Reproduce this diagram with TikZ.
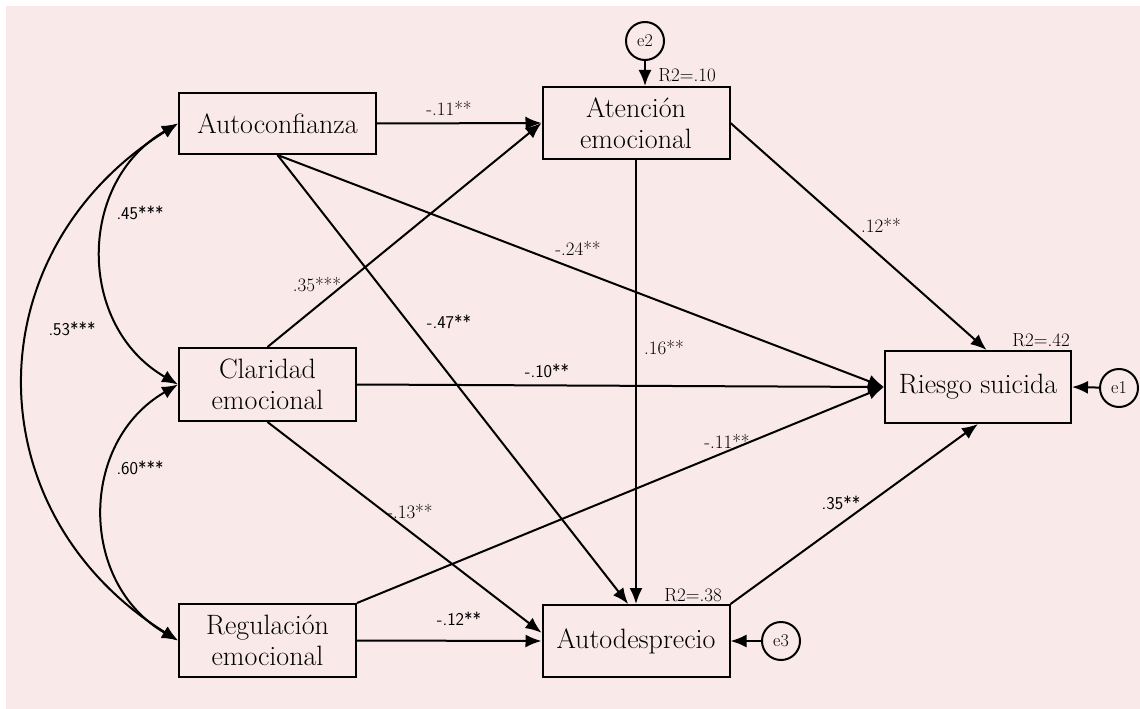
\documentclass[tikz,border=0pt]{standalone}
\usepackage{tikz}
\usetikzlibrary{calc,arrows.meta}
\definecolor{bgpink}{RGB}{249,233,233}
\tikzset{
  var/.style={draw, line width=2pt, inner sep=0pt, align=center, font=\fontsize{28}{31}\selectfont},
  err/.style={draw, circle, line width=2pt, minimum size=38pt, inner sep=0pt, font=\fontsize{18}{20}\selectfont},
  arr/.style={line width=2pt, -{Latex[length=16pt,width=13pt]}},
  cov/.style={line width=2pt, {Latex[length=16pt,width=13pt]}-{Latex[length=16pt,width=13pt]}},
  coef/.style={inner sep=0pt, font=\fontsize{19}{21}\selectfont},
  coefsf/.style={inner sep=0pt, font=\fontsize{18}{20}\sffamily},
}

\begin{document}
\begin{tikzpicture}[x=1pt,y=-1pt]
		%%%%% START %%%%%
		
		\useasboundingbox (0,0) rectangle (1140,709);
		\fill[white] (0,0) rectangle (1140,709);
		\fill[bgpink] (6,6) rectangle (1140,709);
		
		\node[var, minimum width=197pt, minimum height=61pt] (auto) at (277.5,123.5) {Autoconfianza};
		\node[var, minimum width=177pt, minimum height=73pt] (clar) at (267.5,384.5) {Claridad\\emocional};
		\node[var, minimum width=177pt, minimum height=73pt] (regul) at (267.5,640.5) {Regulación\\emocional};
		\node[var, minimum width=187pt, minimum height=72pt] (aten) at (636,123) {Atención\\emocional};
		\node[var, minimum width=187pt, minimum height=72pt] (autod) at (636,641) {Autodesprecio};
		\node[var, minimum width=186pt, minimum height=72pt] (riesgo) at (978,387) {Riesgo suicida};
		
		\node[err] (e1) at (1119,388) {e1};
		\node[err] (e2) at (645,41) {e2};
		\node[err] (e3) at (781,641) {e3};
		
		\node[coef] (r2aten) at (687,75) {R2=.10};
		\node[coef] (r2riesgo) at (1041,340) {R2=.42};
		\node[coef] (r2autod) at (693,595) {R2=.38};
		
		% covarianzas
		\draw[cov] (auto.west) to[out=210, in=150, looseness=1.15] (clar.west);
		\draw[cov] (clar.west) to[out=210, in=150, looseness=1.15] (regul.west);
		\draw[cov] (auto.west) to[out=212, in=148, looseness=1.2] (regul.west);
		
		% efectos
		\draw[arr] (auto.east) -- (aten.west);
		\draw[arr] (clar.north) -- (aten.west);
		\draw[arr] (auto.south) -- (autod.102);
		\draw[arr] (auto.south) -- (riesgo.west);
		\draw[arr] (clar.east) -- (riesgo.west);
		\draw[arr] (regul.north east) -- (riesgo.west);
		\draw[arr] (regul.east) -- (autod.west);
		\draw[arr] (clar.south) -- (autod.175);
		\draw[arr] (aten.south) -- (autod.north);
		\draw[arr] (aten.east) -- (riesgo.77);
		\draw[arr] (autod.north east) -- (riesgo.south);
		
		\draw[arr] (e1) -- (riesgo.east);
		\draw[arr] (e3) -- (autod.east);
		\draw[arr] (e2) -- (e2 |- aten.north);
		
		% coeficientes
		\node[coefsf] (c45) at (140,213) {.45***};
		\node[coefsf] (c53) at (72,329) {.53***};
		\node[coefsf] (c60) at (140,468) {.60***};
		\node[coef] (c11a) at (449,108) {-.11**};
		\node[coef] (c35a) at (317,285) {.35***};
		\node[coefsf] (c47) at (449,322) {-.47**};
		\node[coef] (c24) at (578,248) {-.24**};
		\node[coef] (c12a) at (881,225) {.12**};
		\node[coef] (c16) at (664,348) {.16**};
		\node[coefsf] (c10) at (547,371) {-.10**};
		\node[coef] (c11b) at (727,441) {-.11**};
		\node[coefsf] (c35b) at (841,503) {.35**};
		\node[coef] (c13) at (410,512) {-.13**};
		\node[coefsf] (c12b) at (459,619) {-.12**};
		
		%%%%% END %%%%%
	\end{tikzpicture}
\end{document}
